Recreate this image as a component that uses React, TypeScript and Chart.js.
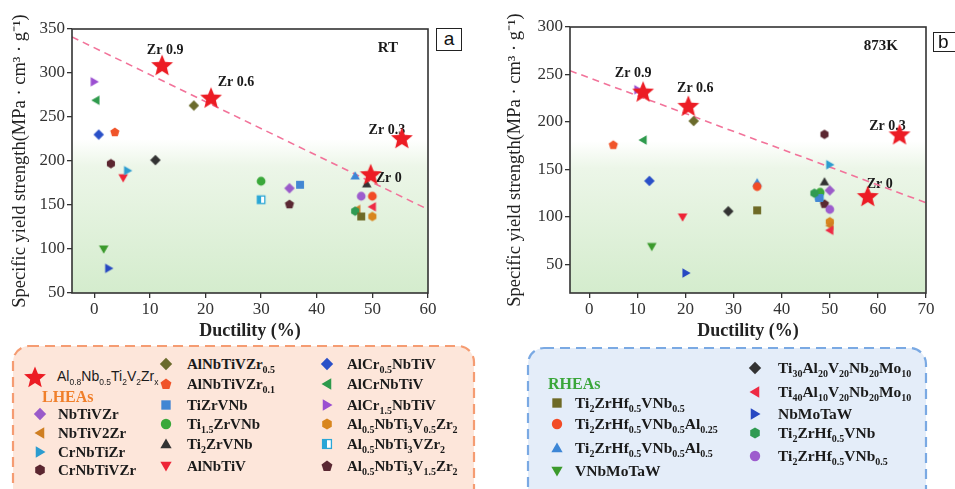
import React, { useEffect, useRef } from 'react';
import { Chart, registerables } from 'chart.js';

Chart.register(...registerables);

const SERIF = '"Liberation Serif", "Times New Roman", Times, serif';
const SANS = '"Liberation Sans", Arial, Helvetica, sans-serif';

// ---------------- DATA ----------------
const zrLabels = ['Zr 0.9', 'Zr 0.6', 'Zr 0.3', 'Zr 0'];
const zrDuctilityRT = [12.2, 21.0, 55.3, 49.7];
const zrStrengthRT = [309, 272, 226, 185];
const zrDuctility873K = [11.2, 20.6, 64.5, 57.9];
const zrStrength873K = [232, 217, 187, 122];

const lheaNames = [
  'NbTiVZr', 'NbTiV2Zr', 'CrNbTiZr', 'CrNbTiVZr',
  'AlNbTiVZr_{0.5}', 'AlNbTiVZr_{0.1}', 'TiZrVNb', 'Ti_{1.5}ZrVNb', 'Ti_{2}ZrVNb', 'AlNbTiV',
  'AlCr_{0.5}NbTiV', 'AlCrNbTiV', 'AlCr_{1.5}NbTiV',
  'Al_{0.5}NbTi_{3}V_{0.5}Zr_{2}', 'Al_{0.5}NbTi_{3}VZr_{2}', 'Al_{0.5}NbTi_{3}V_{1.5}Zr_{2}',
];
const rheaNames = [
  'Ti_{2}ZrHf_{0.5}VNb_{0.5}', 'Ti_{2}ZrHf_{0.5}VNb_{0.5}Al_{0.25}', 'Ti_{2}ZrHf_{0.5}VNb_{0.5}Al_{0.5}', 'VNbMoTaW',
  'Ti_{30}Al_{20}V_{20}Nb_{20}Mo_{10}', 'Ti_{40}Al_{10}V_{20}Nb_{20}Mo_{10}', 'NbMoTaW',
  'Ti_{2}ZrHf_{0.5}VNb', 'Ti_{2}ZrHf_{0.5}VNb_{0.5}',
];

// Room temperature
const lheaDuctilityRT = [35.1, 47.2, 6.0, 3.0, 17.9, 3.7, 37.0, 30.0, 49.0, 5.2, 0.8, 0.3, 0.0, 50.0, 30.0, 35.1];
const lheaStrengthRT = [169, 145, 189, 197, 263, 233, 173, 177, 174, 181, 230, 269, 290, 137, 156, 151];
const rheaDuctilityRT = [48.0, 50.0, 46.9, 1.7, 11.0, 50.0, 2.6, 46.9, 48.0];
const rheaStrengthRT = [137, 160, 183, 100, 201, 148, 78, 143, 160];

// 873 K
const lheaDuctility873K = [50.0, 50.0, 50.0, 48.9, 21.7, 5.0, 47.8, 48.0, 48.9, 19.4, 12.5, 11.2, 10.1, 50.0, 47.8, 48.9];
const lheaStrength873K = [128, 91, 155, 187, 201, 176, 120, 126, 137, 100, 138, 181, 234, 95, 122, 114];
const rheaDuctility873K = [34.9, 34.9, 34.9, 13.0, 28.9, 50.0, 20.1, 46.8, 50.0];
const rheaStrength873K = [107, 132, 136, 69, 106, 86, 41, 125, 108];

const trendDuctilityRT = [-4, 60];
const trendStrengthRT = [341, 145];
const trendDuctility873K = [-4, 70];
const trendStrength873K = [254, 115];

const ductilityTicksRT = [0, 10, 20, 30, 40, 50, 60];
const strengthTicksRT = [50, 100, 150, 200, 250, 300, 350];
const ductilityTicks873K = [0, 10, 20, 30, 40, 50, 60, 70];
const strengthTicks873K = [50, 100, 150, 200, 250, 300];

// ---------------- STYLES ----------------
const lheaShapes = ['diamond', 'triLeft', 'triRight', 'hexagon', 'diamond', 'pentagon', 'square', 'circle', 'triUp', 'triDown',
  'diamond', 'triLeft', 'triRight', 'hexagon', 'halfSquare', 'pentagon'];
const lheaColors = ['#9a5bc9', '#cf7f22', '#2c9ccf', '#5b2630', '#6b6b2c', '#f0542a', '#4286d3', '#3aa83a', '#333333', '#ee2436',
  '#2a50c8', '#2e9a4c', '#9b4fd1', '#d8861e', '#2aa6d6', '#5a2832'];
const rheaShapes = ['square', 'circle', 'triUp', 'triDown', 'diamond', 'triLeft', 'triRight', 'hexagon', 'circle'];
const rheaColors = ['#6e6a26', '#f24b26', '#3c86d6', '#3b9a2c', '#333333', '#ee2a44', '#2748c2', '#2f9a52', '#9d5ccd'];
const STAR_COLOR = '#ec1c24';

function drawShape(ctx: CanvasRenderingContext2D, shape: string, color: string, cx: number, cy: number, r: number) {
  ctx.save();
  ctx.fillStyle = color;
  ctx.strokeStyle = color;
  const poly = (pts: number[][]) => {
    ctx.beginPath();
    pts.forEach(([x, y], i) => (i ? ctx.lineTo(x, y) : ctx.moveTo(x, y)));
    ctx.closePath();
    ctx.fill();
  };
  const reg = (n: number, rr: number, start: number, dx = 0, dy = 0) => {
    const pts: number[][] = [];
    for (let i = 0; i < n; i++) {
      const a = start + (i * 2 * Math.PI) / n;
      pts.push([cx + dx + rr * Math.cos(a), cy + dy + rr * Math.sin(a)]);
    }
    return pts;
  };
  switch (shape) {
    case 'circle':
      ctx.beginPath();
      ctx.arc(cx, cy, r * 0.8, 0, Math.PI * 2);
      ctx.fill();
      break;
    case 'square': {
      const h = r * 0.72;
      ctx.fillRect(cx - h, cy - h, 2 * h, 2 * h);
      break;
    }
    case 'diamond':
      poly(reg(4, r * 0.95, -Math.PI / 2));
      break;
    case 'triUp':
      poly(reg(3, r, -Math.PI / 2, 0, r * 0.15));
      break;
    case 'triDown':
      poly(reg(3, r, Math.PI / 2, 0, -r * 0.15));
      break;
    case 'triLeft':
      poly(reg(3, r, Math.PI, r * 0.15, 0));
      break;
    case 'triRight':
      poly(reg(3, r, 0, -r * 0.15, 0));
      break;
    case 'pentagon':
      poly(reg(5, r * 0.88, -Math.PI / 2, 0, r * 0.05));
      break;
    case 'hexagon':
      poly(reg(6, r * 0.85, -Math.PI / 2));
      break;
    case 'star': {
      const pts: number[][] = [];
      for (let i = 0; i < 10; i++) {
        const a = -Math.PI / 2 + (i * Math.PI) / 5;
        const rr = i % 2 === 0 ? r : r * 0.44;
        pts.push([cx + rr * Math.cos(a), cy + r * 0.08 + rr * Math.sin(a)]);
      }
      poly(pts);
      break;
    }
    case 'halfSquare': {
      const h = r * 0.68;
      ctx.fillStyle = '#ffffff';
      ctx.fillRect(cx - h, cy - h, 2 * h, 2 * h);
      ctx.fillStyle = color;
      ctx.fillRect(cx - h, cy - h, h, 2 * h);
      ctx.lineWidth = 1.3;
      ctx.strokeRect(cx - h, cy - h, 2 * h, 2 * h);
      break;
    }
  }
  ctx.restore();
}

function makeMarker(shape: string, color: string, size: number): HTMLCanvasElement {
  const c = document.createElement('canvas');
  c.width = size;
  c.height = size;
  const ctx = c.getContext('2d')!;
  drawShape(ctx, shape, color, size / 2, size / 2, size / 2 - 0.5);
  return c;
}

const plain = (s: string) => s.replace(/_\{([^}]*)\}/g, '$1');

function Formula({ text, subSize }: { text: string; subSize: number }) {
  const parts: React.ReactNode[] = [];
  const re = /_\{([^}]*)\}/g;
  let last = 0;
  let m: RegExpExecArray | null;
  let k = 0;
  while ((m = re.exec(text))) {
    if (m.index > last) parts.push(<span key={k++}>{text.slice(last, m.index)}</span>);
    parts.push(
      <span key={k++} style={{ fontSize: subSize, position: 'relative', top: 4 }}>{m[1]}</span>
    );
    last = m.index + m[0].length;
  }
  if (last < text.length) parts.push(<span key={k++}>{text.slice(last)}</span>);
  return <>{parts}</>;
}

type PanelSpec = {
  width: number; height: number;
  lheaD: number[]; lheaS: number[]; rheaD: number[]; rheaS: number[];
  zrD: number[]; zrS: number[];
  trendD: number[]; trendS: number[];
  xMin: number; xMax: number; yMin: number; yMax: number;
  xTicks: number[]; yTicks: number[];
  gradientFrom: number;
  zrOffsets: number[][];
  condition: string; condX: number; condY: number;
  padTop: number; padRight: number; yAxisWidth: number; xAxisHeight: number; yTitlePad: number;
};

function buildConfig(p: PanelSpec): any {
  const lheaImgs = lheaNames.map((_, i) => makeMarker(lheaShapes[i], lheaColors[i], 12));
  const rheaImgs = rheaNames.map((_, i) => makeMarker(rheaShapes[i], rheaColors[i], 12));
  const starImg = makeMarker('star', STAR_COLOR, 24);

  const datasets: any[] = [
    {
      label: 'trend',
      data: p.trendD.map((x, i) => ({ x, y: p.trendS[i] })),
      showLine: true,
      borderColor: '#f2739a',
      borderDash: [7, 5],
      borderWidth: 1.6,
      pointRadius: 0,
      order: 10,
    },
    ...lheaNames.map((n, i) => ({
      label: plain(n),
      data: [{ x: p.lheaD[i], y: p.lheaS[i] }],
      pointStyle: lheaImgs[i],
      pointRadius: 5,
      order: 3,
    })),
    ...rheaNames.map((n, i) => ({
      label: plain(n),
      data: [{ x: p.rheaD[i], y: p.rheaS[i] }],
      pointStyle: rheaImgs[i],
      pointRadius: 5,
      order: 2,
    })),
    {
      label: 'Al0.8Nb0.5Ti2V2Zrx',
      data: p.zrD.map((x, i) => ({ x, y: p.zrS[i] })),
      pointStyle: starImg,
      pointRadius: 10,
      order: 0,
    },
  ];

  const bgPlugin = {
    id: 'bgGrad',
    beforeDraw(chart: any) {
      const { ctx, chartArea: a, scales } = chart;
      const y0 = scales.y.getPixelForValue(p.gradientFrom);
      const g = ctx.createLinearGradient(0, y0, 0, a.bottom);
      g.addColorStop(0, 'rgba(255,255,255,1)');
      g.addColorStop(0.18, 'rgb(236,246,232)');
      g.addColorStop(1, 'rgb(212,236,205)');
      ctx.save();
      ctx.fillStyle = g;
      ctx.fillRect(a.left, y0, a.right - a.left, a.bottom - y0);
      ctx.restore();
    },
  };

  const labelPlugin = {
    id: 'labels',
    beforeDatasetsDraw(chart: any) {
      const { ctx, scales } = chart;
      ctx.save();
      ctx.fillStyle = '#1a1a1a';
      ctx.textAlign = 'center';
      ctx.textBaseline = 'middle';
      ctx.font = `bold 14px ${SERIF}`;
      zrLabels.forEach((t, i) => {
        const px = scales.x.getPixelForValue(p.zrD[i]) + p.zrOffsets[i][0];
        const py = scales.y.getPixelForValue(p.zrS[i]) + p.zrOffsets[i][1];
        ctx.fillText(t, px, py);
      });
      ctx.font = `bold 15px ${SERIF}`;
      ctx.fillText(p.condition, scales.x.getPixelForValue(p.condX), scales.y.getPixelForValue(p.condY));
      ctx.restore();
    },
  };

  const framePlugin = {
    id: 'frame',
    afterDraw(chart: any) {
      const { ctx, chartArea: a } = chart;
      ctx.save();
      ctx.strokeStyle = '#333';
      ctx.lineWidth = 1.6;
      ctx.strokeRect(a.left, a.top, a.right - a.left, a.bottom - a.top);
      ctx.restore();
    },
  };

  const tickFont = { family: SERIF, size: 17 };

  return {
    type: 'scatter',
    data: { datasets },
    plugins: [bgPlugin, labelPlugin, framePlugin],
    options: {
      responsive: false,
      animation: false,
      events: [],
      layout: { padding: { left: 0, top: p.padTop, right: p.padRight, bottom: 0 } },
      plugins: { legend: { display: false }, tooltip: { enabled: false } },
      scales: {
        x: {
          type: 'linear',
          min: p.xMin,
          max: p.xMax,
          afterBuildTicks: (s: any) => { s.ticks = p.xTicks.map((v) => ({ value: v })); },
          afterFit: (s: any) => { s.height = p.xAxisHeight; },
          ticks: { font: tickFont, color: '#333', padding: 1, maxRotation: 0 },
          grid: { display: true, drawOnChartArea: false, drawTicks: true, tickLength: 5, color: '#333', lineWidth: 1.3 },
          border: { display: false },
          title: {
            display: true,
            text: 'Ductility (%)',
            color: '#222',
            font: { family: SERIF, size: 18, weight: 'bold' },
            padding: { top: 0, bottom: 3 },
          },
        },
        y: {
          type: 'linear',
          min: p.yMin,
          max: p.yMax,
          afterBuildTicks: (s: any) => { s.ticks = p.yTicks.map((v) => ({ value: v })); },
          afterFit: (s: any) => { s.width = p.yAxisWidth; },
          ticks: { font: tickFont, color: '#333', padding: 2 },
          grid: { display: true, drawOnChartArea: false, drawTicks: true, tickLength: 5, color: '#333', lineWidth: 1.3 },
          border: { display: false },
          title: {
            display: true,
            text: 'Specific yield strength(MPa · cm³ · g⁻¹)',
            color: '#222',
            font: { family: SERIF, size: 18.5 },
            padding: { top: p.yTitlePad, bottom: 0 },
          },
        },
      },
    },
  };
}

function Panel({ spec, left, top }: { spec: PanelSpec; left: number; top: number }) {
  const ref = useRef<HTMLCanvasElement>(null);
  useEffect(() => {
    const chart = new Chart(ref.current!, buildConfig(spec));
    return () => chart.destroy();
  }, []);
  return (
    <canvas
      ref={ref}
      width={spec.width}
      height={spec.height}
      style={{ position: 'absolute', left, top, width: spec.width, height: spec.height }}
    />
  );
}

function Marker({ shape, color, size, x, y }: { shape: string; color: string; size: number; x: number; y: number }) {
  const ref = useRef<HTMLCanvasElement>(null);
  useEffect(() => {
    const ctx = ref.current!.getContext('2d')!;
    ctx.clearRect(0, 0, size, size);
    drawShape(ctx, shape, color, size / 2, size / 2, size / 2 - 0.5);
  }, []);
  return (
    <canvas ref={ref} width={size} height={size}
      style={{ position: 'absolute', left: x - size / 2, top: y - size / 2, width: size, height: size }} />
  );
}

function LegendText({ text, x, y, size }: { text: string; x: number; y: number; size: number }) {
  return (
    <div style={{
      position: 'absolute', left: x, top: y - 10, lineHeight: '20px', whiteSpace: 'nowrap',
      fontFamily: SERIF, fontWeight: 'bold', fontSize: size, color: '#1a1a1a',
    }}>
      <Formula text={text} subSize={Math.round(size * 0.66)} />
    </div>
  );
}

const specRT: PanelSpec = {
  width: 478, height: 345,
  lheaD: lheaDuctilityRT, lheaS: lheaStrengthRT, rheaD: rheaDuctilityRT, rheaS: rheaStrengthRT,
  zrD: zrDuctilityRT, zrS: zrStrengthRT,
  trendD: trendDuctilityRT, trendS: trendStrengthRT,
  xMin: -4, xMax: 60, yMin: 50, yMax: 350,
  xTicks: ductilityTicksRT, yTicks: strengthTicksRT,
  gradientFrom: 225,
  zrOffsets: [[3, -15], [25, -15], [-15, -8], [18, 4]],
  condition: 'RT', condX: 52.8, condY: 328,
  padTop: 29, padRight: 50, yAxisWidth: 72, xAxisHeight: 52, yTitlePad: 9,
};

const spec873K: PanelSpec = {
  width: 477, height: 345,
  lheaD: lheaDuctility873K, lheaS: lheaStrength873K, rheaD: rheaDuctility873K, rheaS: rheaStrength873K,
  zrD: zrDuctility873K, zrS: zrStrength873K,
  trendD: trendDuctility873K, trendS: trendStrength873K,
  xMin: -4, xMax: 70, yMin: 20, yMax: 300,
  xTicks: ductilityTicks873K, yTicks: strengthTicks873K,
  gradientFrom: 180,
  zrOffsets: [[-10, -18], [7, -17], [-12, -8], [12, -12]],
  condition: '873K', condX: 60.6, condY: 280,
  padTop: 27, padRight: 29, yAxisWidth: 92, xAxisHeight: 52, yTitlePad: 26,
};

const lheaCols = [
  { mx: 40, tx: 58, ys: [414, 433, 452, 470] },
  { mx: 166, tx: 187, ys: [364, 384, 405, 424, 444, 466] },
  { mx: 327, tx: 347, ys: [364, 384, 405, 424, 444, 466] },
];
const rheaCols = [
  { mx: 557, tx: 575, ys: [403, 424, 448, 471] },
  { mx: 755, tx: 778, ys: [368, 392, 414, 433, 456] },
];

function legendItems(names: string[], shapes: string[], colors: string[],
  cols: { mx: number; tx: number; ys: number[] }[], fontSize: number) {
  const out: React.ReactNode[] = [];
  let idx = 0;
  cols.forEach((c) => {
    c.ys.forEach((y) => {
      const i = idx++;
      if (i >= names.length) return;
      out.push(<Marker key={'m' + names[i] + i} shape={shapes[i]} color={colors[i]} size={14} x={c.mx} y={y} />);
      out.push(<LegendText key={'t' + names[i] + i} text={names[i]} x={c.tx} y={y} size={fontSize} />);
    });
  });
  return out;
}

export default function App() {
  return (
    <div style={{ position: 'fixed', left: 0, top: 0, width: 955, height: 489, overflow: 'hidden', background: '#fff' }}>
      <svg width={955} height={489} style={{ position: 'absolute', left: 0, top: 0 }}>
        <rect x={13} y={346} width={461} height={170} rx={16} ry={16}
          fill="#fde6da" stroke="#f59c72" strokeWidth={2.2} strokeDasharray="10 6" />
        <rect x={528} y={348} width={398} height={170} rx={16} ry={16}
          fill="#e4edf9" stroke="#7aa9e3" strokeWidth={2.2} strokeDasharray="10 6" />
      </svg>
      <Panel spec={specRT} left={0} top={0} />
      <Panel spec={spec873K} left={478} top={0} />
      <div style={{
        position: 'absolute', left: 436, top: 28, width: 24, height: 21, border: '1.3px solid #222',
        fontFamily: SANS, fontSize: 19, lineHeight: '20px', textAlign: 'center', color: '#111', background: '#fff',
      }}>a</div>
      <div style={{
        position: 'absolute', left: 933, top: 32, width: 30, height: 18, border: '1.3px solid #222',
        fontFamily: SANS, fontSize: 19, lineHeight: '18px', paddingLeft: 4, color: '#111', background: '#fff',
      }}>b</div>

      {/* LHEA legend */}
      <Marker shape="star" color={STAR_COLOR} size={24} x={35} y={377} />
      <div style={{ position: 'absolute', left: 57, top: 366, lineHeight: '20px', whiteSpace: 'nowrap', fontFamily: SANS, fontSize: 14, color: '#1a1a1a' }}>
        <Formula text={'Al_{0.8}Nb_{0.5}Ti_{2}V_{2}Zr_{x}'} subSize={8.5} />
      </div>
      <div style={{ position: 'absolute', left: 42, top: 387, lineHeight: '20px', fontFamily: SERIF, fontWeight: 'bold', fontSize: 16, color: '#f07f2a' }}>LHEAs</div>
      {legendItems(lheaNames, lheaShapes, lheaColors, lheaCols, 15)}

      {/* RHEA legend */}
      <div style={{ position: 'absolute', left: 548, top: 374, lineHeight: '20px', fontFamily: SERIF, fontWeight: 'bold', fontSize: 16, color: '#3aa63a' }}>RHEAs</div>
      {legendItems(rheaNames, rheaShapes, rheaColors, rheaCols, 15.5)}
    </div>
  );
}
